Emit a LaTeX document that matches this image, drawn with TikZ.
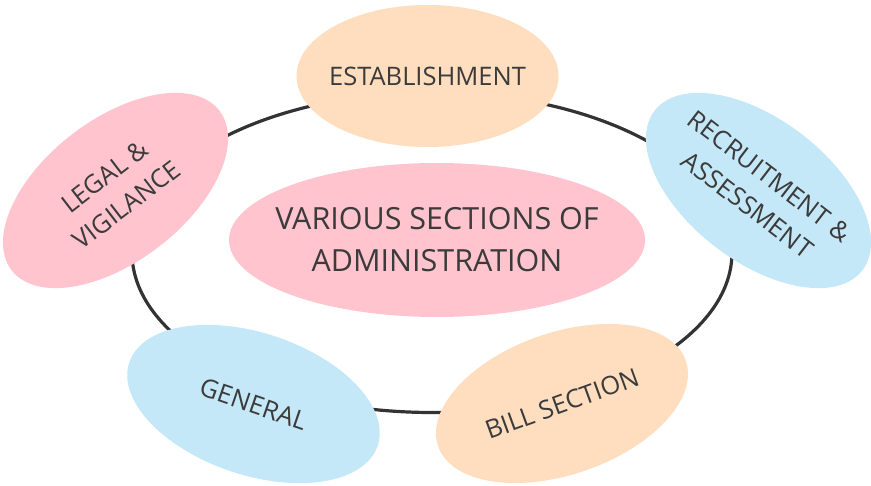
\documentclass[tikz,border=0pt]{standalone}
\usepackage{fontspec}
\setmainfont{Open Sans}
\usepackage{tikz}
\usetikzlibrary{shapes.geometric}
\definecolor{bubblepink}{HTML}{FFC4CE}
\definecolor{bubblepeach}{HTML}{FFDEC0}
\definecolor{bubbleblue}{HTML}{C4E8F7}
\definecolor{textgray}{HTML}{3B3B3B}
\definecolor{ringgray}{HTML}{333333}

\begin{document}
\begin{tikzpicture}[x=1pt, y=-1pt,
  bubble/.style={ellipse, draw=none, minimum width=262pt, minimum height=142pt, inner sep=0pt},
  bubbletext/.style={text=textgray, align=center, inner sep=0pt, font=\fontsize{25.5}{36}\selectfont}]
\useasboundingbox (0,0) rectangle (871,486);

% ring behind the bubbles
\draw[ringgray, line width=3.2pt] (432,252.5) ellipse [x radius=300, y radius=160];

% centre
\node[bubble, fill=bubblepink, minimum width=416pt, minimum height=154pt] (admin) at (437,240) {};
\node[bubbletext, font=\fontsize{30.5}{42}\selectfont] (admintext) at (admin) {VARIOUS SECTIONS OF\\ADMINISTRATION};

% sections round the ring
\node[bubble, fill=bubblepeach] (estab) at (427.5,76) {};
\node[bubbletext] (estabtext) at (estab) {ESTABLISHMENT};

\node[bubble, fill=bubblepink, rotate=37.5] (legal) at (115.5,190.5) {};
\node[bubbletext, rotate=37.5] (legaltext) at (legal) {LEGAL \&\\VIGILANCE};

\node[bubble, fill=bubbleblue, rotate=-37.5] (recruit) at (758.5,190.5) {};
\node[bubbletext, rotate=-37.5] (recruittext) at (recruit) {RECRUITMENT \&\\ASSESSMENT};

\node[bubble, fill=bubbleblue, rotate=-18.5] (general) at (253.5,404) {};
\node[bubbletext, rotate=-19] (generaltext) at (general) {GENERAL};

\node[bubble, fill=bubblepeach, rotate=19] (bill) at (562,403.5) {};
\node[bubbletext, rotate=20] (billtext) at (bill) {BILL SECTION};
\end{tikzpicture}
\end{document}
